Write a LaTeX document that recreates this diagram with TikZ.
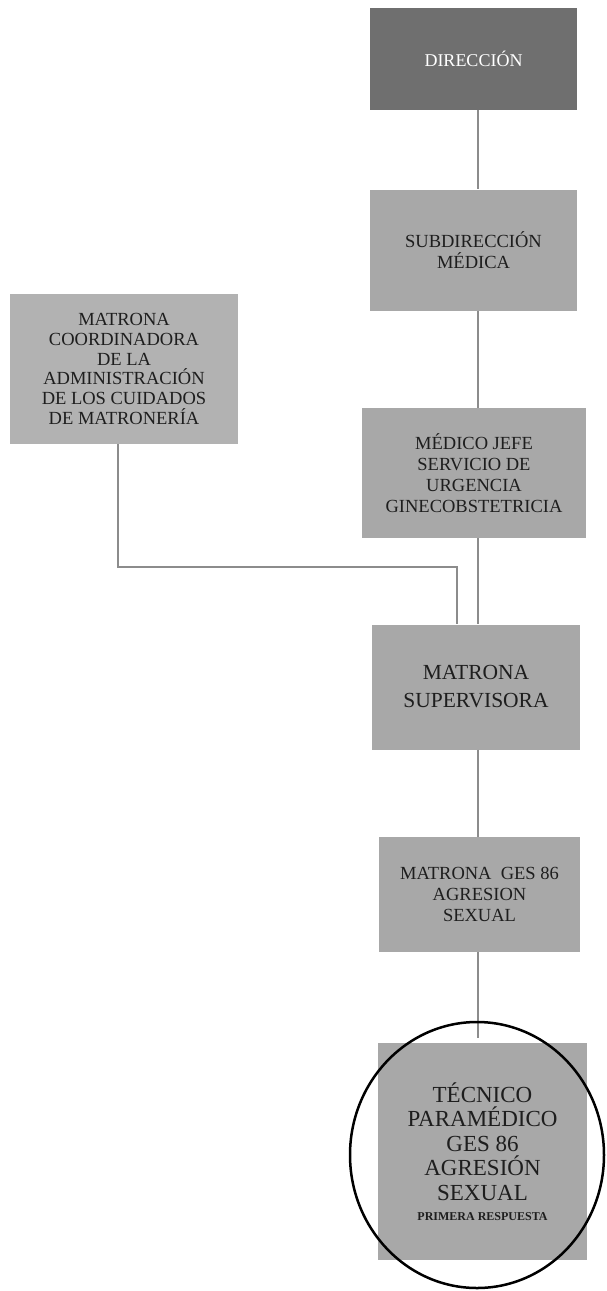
\documentclass[tikz,border=0pt]{standalone}
\usepackage{fontspec}
\setmainfont{Liberation Serif}
\usepackage{xcolor}
\definecolor{darkbox}{HTML}{6F6F6F}
\definecolor{lightbox}{HTML}{A8A8A8}
\definecolor{palebox}{HTML}{B2B2B2}
\definecolor{linkgray}{HTML}{8C8C8C}
\definecolor{inkgray}{HTML}{1E1E1E}

\begin{document}
\begin{tikzpicture}[x=1pt,y=-1pt,
  unit/.style={rectangle,fill=lightbox,text=inkgray,align=center,inner sep=0pt,
    font=\fontsize{18.5}{21}\selectfont},
  link/.style={draw=linkgray,line width=2pt}]
  \useasboundingbox (0,0) rectangle (606,1291);
  \coordinate (spine) at (478,0);
  \coordinate (drop) at (118,0);
  \coordinate (knee) at (457,567);

  \node (dir) [unit,fill=darkbox,text=white,minimum width=207pt,minimum height=102pt,
    font=\fontsize{18}{20}\selectfont]
    at (473.5,59) {DIRECCIÓN};
  \node (sub) [unit,minimum width=207pt,minimum height=121pt]
    at (473.5,250) {SUBDIRECCIÓN\\MÉDICA};
  \node (coord) [unit,fill=palebox,minimum width=228pt,minimum height=150pt,
    font=\fontsize{18.5}{19.8}\selectfont]
    at (124,369) {MATRONA\\COORDINADORA\\DE LA\\ADMINISTRACIÓN\\DE LOS CUIDADOS\\DE MATRONERÍA};
  \node (jefe) [unit,minimum width=224pt,minimum height=130pt]
    at (474,473) {MÉDICO JEFE\\SERVICIO DE\\URGENCIA\\GINECOBSTETRICIA};
  \node (sup) [unit,minimum width=208pt,minimum height=125pt,
    font=\fontsize{21.5}{28}\selectfont]
    at (476,687) {MATRONA\\SUPERVISORA};
  \node (ges) [unit,minimum width=201pt,minimum height=115pt]
    at (479.5,894.5) {MATRONA~~GES 86\\AGRESION\\SEXUAL};
  \node (tec) [unit,minimum width=209pt,minimum height=217pt,
    font=\fontsize{23}{24.5}\selectfont]
    at (482.5,1151.5) {TÉCNICO\\PARAMÉDICO\\GES 86\\AGRESIÓN\\SEXUAL\\[-4pt]
    {\fontsize{12}{13}\selectfont\bfseries PRIMERA RESPUESTA}};

  \path[link]
    (dir.south -| spine) edge (sub.north -| spine)
    (sub.south -| spine) edge (jefe.north -| spine)
    (jefe.south -| spine) edge (sup.north -| spine)
    (sup.south -| spine) edge (ges.north -| spine)
    (ges.south -| spine) edge ([yshift=5pt]tec.north -| spine);
  \draw[link] (coord.south -| drop) |- (knee) -- (knee |- sup.north);

  \draw[line width=2.5pt] (477,1155) ellipse [x radius=127, y radius=133];
\end{tikzpicture}
\end{document}
